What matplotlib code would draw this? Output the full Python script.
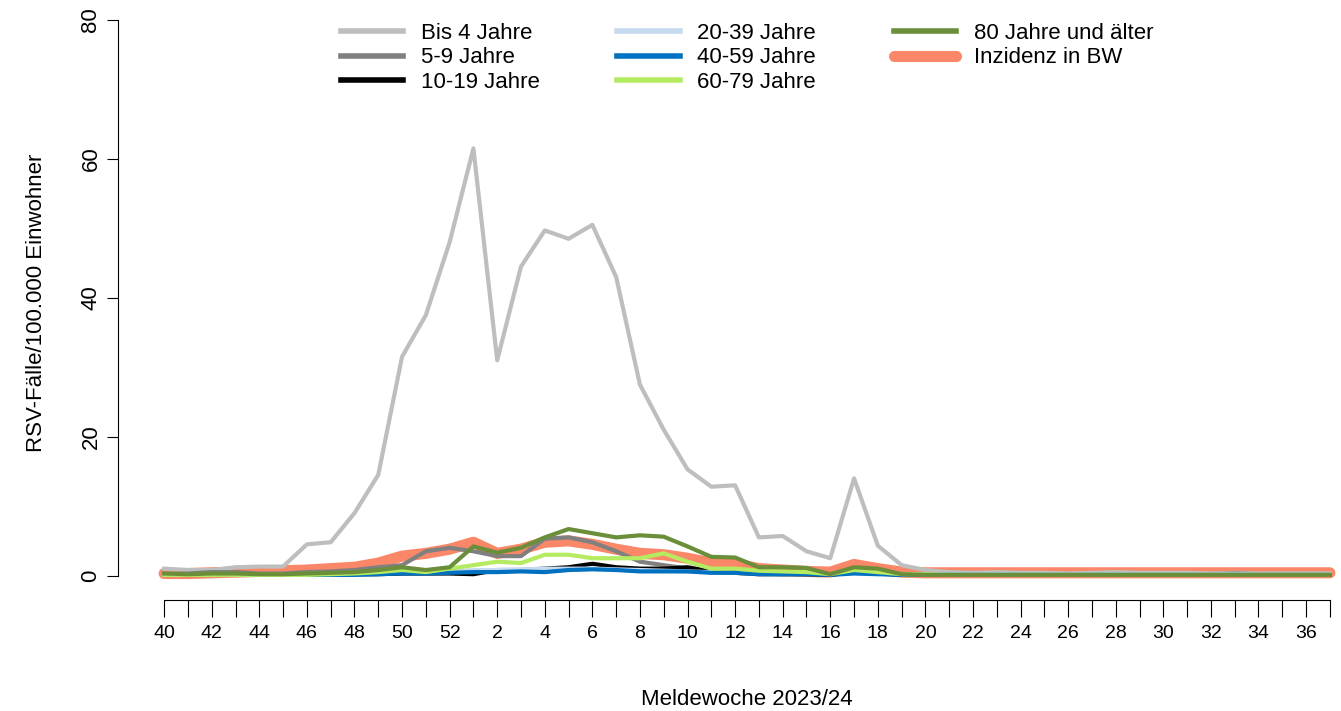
import matplotlib
matplotlib.use("Agg")
import matplotlib.pyplot as plt

plt.rcParams['font.family'] = ['Liberation Sans', 'DejaVu Sans']

weeks = list(range(40, 53)) + list(range(1, 38))

bis4 = [1, 0.8, 0.8, 1.2, 1.3, 1.3, 4.5, 4.8, 9, 14.5, 31.5, 37.5, 48,
        61.5, 31, 44.5, 49.7, 48.5, 50.5, 43, 27.5, 21, 15.3, 12.8, 13, 5.5, 5.7, 3.5, 2.5,
        14, 4.3, 1.5, 0.8, 0.5, 0.4, 0.5, 0.4, 0.4, 0.3, 0.4, 0.5, 0.4, 0.4, 0.4, 0.3, 0.4,
        0.3, 0.3, 0.3, 0.3]
j5_9 = [0.2, 0.3, 0.5, 0.5, 0.3, 0.3, 0.5, 0.6, 0.8, 1.2, 1.5, 3.5, 4,
        3.5, 2.8, 2.8, 5.3, 5.5, 4.8, 3.5, 2, 1.5, 1, 0.5, 0.6, 0.3, 0.2, 0.2, 0.2,
        1, 0.5, 0.2, 0.2, 0.2, 0.2, 0.2, 0.2, 0.2, 0.2, 0.2, 0.2, 0.2, 0.2, 0.2, 0.2, 0.3,
        0.2, 0.2, 0.2, 0.2]
j10_19 = [0.1, 0.1, 0.2, 0.1, 0.1, 0.1, 0.1, 0.2, 0.2, 0.2, 0.3, 0.3, 0.3,
          0.2, 0.8, 0.8, 1, 1.2, 1.7, 1.2, 1, 1, 1.2, 0.6, 0.4, 0.2, 0.2, 0.2, 0.1,
          0.5, 0.3, 0.1, 0.1, 0.1, 0.1, 0.1, 0.1, 0.1, 0.1, 0.1, 0.1, 0.1, 0.1, 0.1, 0.1, 0.1,
          0.1, 0.1, 0.1, 0.1]
j20_39 = [0.2, 0.2, 0.2, 0.2, 0.2, 0.2, 0.2, 0.3, 0.3, 0.4, 0.5, 0.5, 0.6,
          0.8, 0.8, 0.9, 1, 1, 1, 0.9, 0.8, 0.7, 0.6, 0.5, 0.4, 0.3, 0.3, 0.3, 0.2,
          0.4, 0.3, 0.2, 0.2, 0.2, 0.2, 0.2, 0.2, 0.2, 0.2, 0.2, 0.2, 0.2, 0.2, 0.2, 0.2, 0.2,
          0.2, 0.2, 0.2, 0.2]
j40_59 = [0.1, 0.1, 0.1, 0.1, 0.1, 0.1, 0.1, 0.1, 0.1, 0.2, 0.3, 0.3, 0.4,
          0.5, 0.5, 0.6, 0.5, 0.8, 0.9, 0.8, 0.6, 0.6, 0.6, 0.4, 0.4, 0.2, 0.2, 0.2, 0.1,
          0.3, 0.2, 0.1, 0.1, 0.1, 0.1, 0.1, 0.1, 0.1, 0.1, 0.1, 0.1, 0.1, 0.1, 0.1, 0.1, 0.1,
          0.1, 0.1, 0.1, 0.1]
j60_79 = [0.1, 0.1, 0.1, 0.1, 0.1, 0.1, 0.1, 0.2, 0.3, 0.5, 0.8, 0.5, 1,
          1.5, 2, 1.8, 3, 3, 2.5, 2.5, 2.5, 3.2, 2, 1, 1, 0.7, 0.6, 0.5, 0.2,
          0.8, 0.5, 0.2, 0.2, 0.1, 0.1, 0.1, 0.1, 0.1, 0.1, 0.1, 0.1, 0.1, 0.1, 0.1, 0.1, 0.1,
          0.1, 0.1, 0.1, 0.1]
j80 = [0.3, 0.2, 0.3, 0.3, 0.2, 0.2, 0.3, 0.4, 0.5, 0.8, 1.2, 0.8, 1.2,
       4.2, 3.3, 4, 5.5, 6.7, 6.1, 5.5, 5.8, 5.6, 4.2, 2.7, 2.6, 1.2, 1.2, 1.1, 0.2,
       1.2, 1, 0.2, 0.1, 0.1, 0.1, 0.1, 0.1, 0.1, 0.1, 0.1, 0.1, 0.1, 0.1, 0.1, 0.1, 0.1,
       0.1, 0.1, 0.1, 0.1]
bw = [0.3, 0.3, 0.4, 0.5, 0.6, 0.7, 0.8, 1, 1.2, 1.8, 2.8, 3.2, 3.8,
      4.8, 3.2, 3.8, 4.8, 5, 4.5, 3.8, 3.2, 3, 2.5, 1.8, 1.7, 1, 0.8, 0.6, 0.5,
      1.6, 1, 0.5, 0.4, 0.4, 0.4, 0.4, 0.4, 0.4, 0.4, 0.4, 0.4, 0.4, 0.4, 0.4, 0.4, 0.4,
      0.4, 0.4, 0.4, 0.4]

x = list(range(len(weeks)))
fig = plt.figure(figsize=(13.41, 7.11), dpi=100)
ax = fig.add_axes([157 / 1341, 1 - 586 / 711, (1337 - 157) / 1341, (586 - 20) / 711])

l_bw, = ax.plot(x, bw, color="#FA8767", lw=8, solid_capstyle="round", label="Inzidenz in BW")
l1, = ax.plot(x, bis4, color="#BEBEBE", lw=3, label="Bis 4 Jahre")
l2, = ax.plot(x, j5_9, color="#808080", lw=3, label="5-9 Jahre")
l3, = ax.plot(x, j10_19, color="black", lw=3, label="10-19 Jahre")
l4, = ax.plot(x, j20_39, color="#C6DBEF", lw=3, label="20-39 Jahre")
l5, = ax.plot(x, j40_59, color="#0070C0", lw=3, label="40-59 Jahre")
l6, = ax.plot(x, j60_79, color="#B5EB61", lw=3, label="60-79 Jahre")
l7, = ax.plot(x, j80, color="#6B8E3A", lw=3, label="80 Jahre und älter")

ax.set_xlim(-0.3, 49.3)
ax.set_ylim(-1.5, 80)
for s in ["top", "right"]:
    ax.spines[s].set_visible(False)
ax.spines["left"].set_position(("outward", 28))
ax.spines["bottom"].set_position(("outward", 10))
ax.spines["left"].set_bounds(0, 80)
ax.spines["bottom"].set_bounds(0, 49)
ax.set_yticks([0, 20, 40, 60, 80])
ax.tick_params(axis="y", labelrotation=90, labelsize=16, length=8, pad=4)
for t in ax.get_yticklabels():
    t.set_va("center")
ax.set_xticks(x)
ax.set_xticklabels([str(w) if i % 2 == 0 else "" for i, w in enumerate(weeks)], fontsize=14)
ax.tick_params(axis="x", length=12, pad=6)
ax.set_ylabel("RSV-Fälle/100.000 Einwohner", fontsize=16, labelpad=24)
ax.set_xlabel("Meldewoche 2023/24", fontsize=16, labelpad=34)

handles = [l1, l2, l3, l4, l5, l6, l7, l_bw]
leg = ax.legend(handles=handles, ncol=3, loc="upper center", bbox_to_anchor=(0.5, 1.03),
                frameon=False, fontsize=16, handlelength=2.8, columnspacing=3.5, labelspacing=0.15)
for h in leg.get_lines()[:7]:
    h.set_linewidth(4)

fig.savefig("out.png", dpi=100)
